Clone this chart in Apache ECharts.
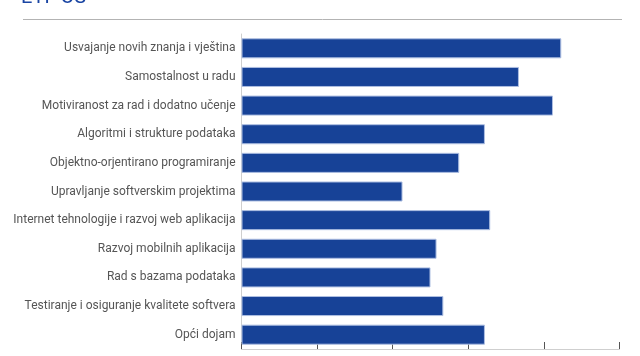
<!DOCTYPE html>
<html>
<head>
<meta charset="utf-8">
<script src="https://cdn.jsdelivr.net/npm/echarts@6/dist/echarts.min.js"></script>
<style>
html,body{margin:0;padding:0;background:#fff;}
#chart{width:640px;height:356px;}
</style>
</head>
<body>
<div id="chart"></div>
<script>
const titleText = "ETF OS";
const categories = [
  "Usvajanje novih znanja i vještina",
  "Samostalnost u radu",
  "Motiviranost za rad i dodatno učenje",
  "Algoritmi i strukture podataka",
  "Objektno-orjentirano programiranje",
  "Upravljanje softverskim projektima",
  "Internet tehnologije i razvoj web aplikacija",
  "Razvoj mobilnih aplikacija",
  "Rad s bazama podataka",
  "Testiranje i osiguranje kvalitete softvera",
  "Opći dojam"
];
const values = [4.23, 3.67, 4.12, 3.22, 2.88, 2.13, 3.29, 2.58, 2.50, 2.67, 3.22];
const axisMin = 0, axisMax = 5, axisStep = 1;

const chart = echarts.init(document.getElementById('chart'), null, {renderer: 'canvas'});
chart.setOption({
  animation: false,
  graphic: [
    {type: 'text', x: 21, y: 8, style: {text: titleText, fill: '#1a45a3', font: '20px Roboto', verticalAlign: 'bottom', align: 'left'}},
    {type: 'line', shape: {x1: 23, y1: 19.5, x2: 622, y2: 19.5}, style: {stroke: '#b3b3b3', lineWidth: 1}}
  ],
  grid: {left: 241.5, right: 20.5, top: 34, bottom: 7, containLabel: false},
  xAxis: {
    type: 'value', min: axisMin, max: axisMax, interval: axisStep,
    axisLabel: {show: false},
    splitLine: {show: false},
    axisLine: {show: true, lineStyle: {color: '#cfcfcf', width: 1}},
    axisTick: {show: true, inside: true, length: 7, lineStyle: {color: '#555', width: 1}}
  },
  yAxis: {
    type: 'category', data: categories, inverse: true,
    axisTick: {show: false},
    axisLine: {show: true, lineStyle: {color: '#cfcfcf', width: 1}},
    axisLabel: {color: '#555', fontFamily: 'Roboto', fontSize: 12, margin: 6}
  },
  series: [{
    type: 'bar', data: values, barCategoryGap: '30%',
    itemStyle: {color: '#174297', borderColor: '#aebfe2', borderWidth: 1}
  }]
});
</script>
</body>
</html>
